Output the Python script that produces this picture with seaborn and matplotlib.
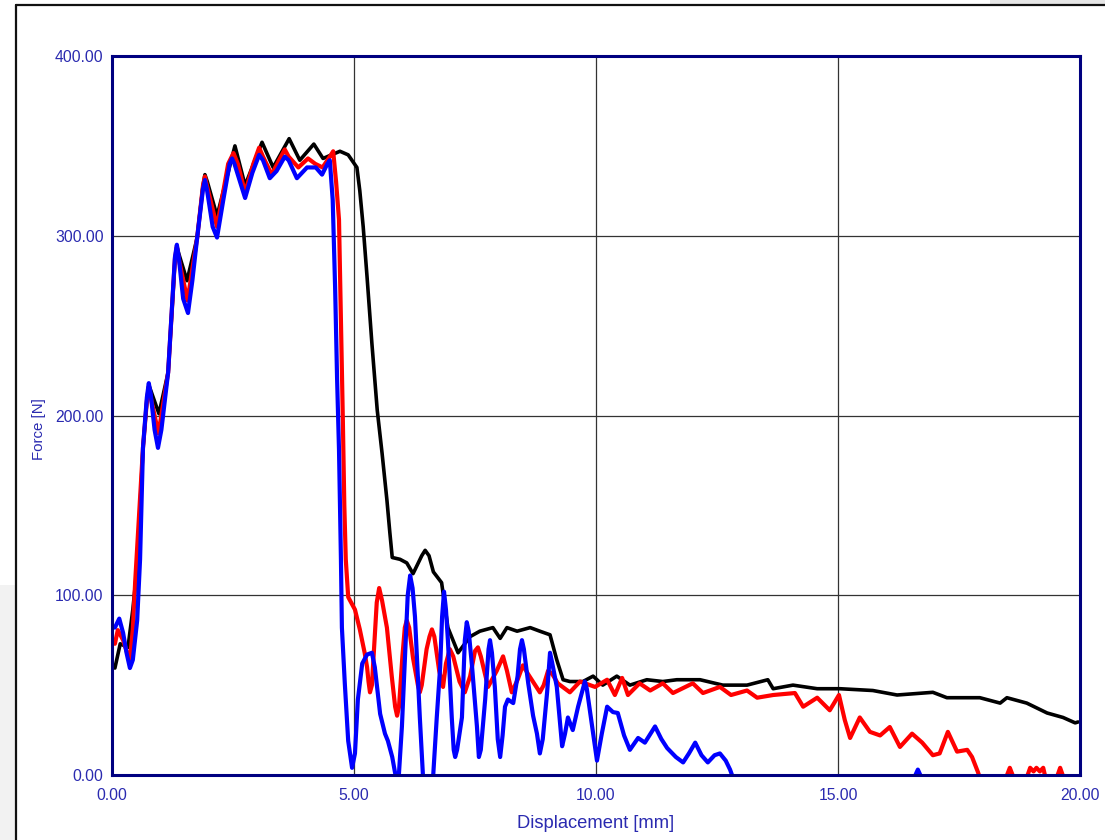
import numpy as np
import pandas as pd
import matplotlib
matplotlib.use("Agg")
import matplotlib.pyplot as plt
from matplotlib.patches import Rectangle
from matplotlib.lines import Line2D
import seaborn as sns

# Displacement [mm] / force [N] readings for the three specimens
black_x = [0.06, 0.17, 0.33, 0.43, 0.52, 0.64, 0.72, 0.76, 0.80, 0.97,
           1.16, 1.26, 1.30, 1.34, 1.38, 1.55, 1.76, 1.88, 1.92, 1.97,
           2.17, 2.54, 2.75, 3.10, 3.33, 3.66, 3.88, 4.17, 4.36, 4.71,
           4.88, 5.06, 5.12, 5.19, 5.27, 5.37, 5.48, 5.58, 5.68, 5.74,
           5.79, 5.95, 6.09, 6.22, 6.40, 6.47, 6.55, 6.64, 6.81, 6.94,
           7.15, 7.40, 7.60, 7.87, 8.02, 8.16, 8.37, 8.64, 8.84, 9.05,
           9.19, 9.32, 9.46, 9.73, 9.94, 10.14, 10.43, 10.70, 11.05, 11.38,
           11.67, 12.15, 12.62, 13.12, 13.55, 13.66, 14.07, 14.57, 15.04, 15.72,
           16.22, 16.96, 17.25, 17.93, 18.35, 18.49, 18.90, 19.32, 19.65, 19.90,
           19.96]
black_y = [59.5, 73, 71, 92, 116, 182, 208, 217, 214, 201,
           224, 268, 286, 294, 290, 275, 299, 328, 334, 330,
           311, 350, 328, 352, 338, 354, 342, 351, 343, 347,
           345, 338, 325, 305, 277, 240, 203, 179, 153, 135,
           121, 120, 118, 112, 122, 125, 122, 113, 107, 82,
           68, 77, 80, 82, 76, 82, 80, 82, 80, 78,
           64, 53, 52, 52, 55, 50, 55, 50, 53, 52,
           53, 53, 50, 50, 53, 48, 50, 48, 48, 47,
           44.5, 46, 43, 43, 40, 43, 40, 34.5, 32, 29,
           29.5]

red_x = [0.06, 0.12, 0.23, 0.30, 0.37, 0.43, 0.48, 0.64, 0.72, 0.76,
         0.80, 0.96, 1.16, 1.26, 1.30, 1.34, 1.38, 1.56, 1.76, 1.88,
         1.92, 1.96, 2.17, 2.40, 2.51, 2.60, 2.75, 2.92, 3.04, 3.12,
         3.30, 3.45, 3.57, 3.65, 3.85, 4.05, 4.20, 4.35, 4.50, 4.57,
         4.63, 4.69, 4.73, 4.77, 4.80, 4.83, 4.88, 5.02, 5.12, 5.22,
         5.27, 5.30, 5.33, 5.37, 5.43, 5.47, 5.52, 5.58, 5.68, 5.78,
         5.85, 5.89, 5.93, 6.00, 6.05, 6.09, 6.14, 6.22, 6.32, 6.36,
         6.40, 6.50, 6.56, 6.61, 6.66, 6.76, 6.84, 6.90, 6.98, 7.05,
         7.18, 7.29, 7.40, 7.50, 7.56, 7.62, 7.77, 7.95, 8.08, 8.16,
         8.26, 8.38, 8.49, 8.60, 8.84, 8.92, 9.01, 9.10, 9.21, 9.46,
         9.67, 9.98, 10.23, 10.39, 10.54, 10.66, 10.90, 11.12, 11.38, 11.59,
         12.00, 12.21, 12.56, 12.79, 13.12, 13.33, 13.66, 14.11, 14.28, 14.57,
         14.83, 15.02, 15.14, 15.25, 15.45, 15.66, 15.87, 16.07, 16.28, 16.53,
         16.74, 16.96, 17.10, 17.27, 17.46, 17.67, 17.77, 17.89, 17.95, 18.45,
         18.55, 18.65, 18.88, 18.97, 19.04, 19.10, 19.17, 19.24, 19.30, 19.50,
         19.59, 19.68, 20.00]
red_y = [73, 80.6, 75, 69, 64, 81, 108, 182, 208, 216,
         210, 190, 224, 269, 287, 294, 287, 264, 299, 328,
         333, 328, 305, 340, 346, 340, 324, 340, 349, 344,
         334, 342, 348, 344, 338, 343, 340, 338, 344, 347,
         330, 309, 253, 197, 150, 120, 99, 92, 81, 68,
         60, 52, 46, 50, 78, 96, 104, 97, 82, 55,
         38, 33, 38, 66, 82, 86, 82, 65, 50, 46,
         50, 70, 77, 81, 77, 58, 49, 62, 70, 66,
         52, 46, 55, 69, 71, 66, 49, 58, 66, 58,
         46, 53, 61, 56, 46, 50, 58, 56, 51, 46,
         52, 49, 53, 44.5, 54, 44.5, 51, 47, 51, 45.6,
         51, 45.6, 49, 44.5, 47, 43, 44.5, 45.6, 38, 43,
         36, 44.5, 30.6, 20.6, 32, 24, 22, 26.7, 15.6, 23,
         18, 11, 12, 24, 13, 14, 10, 1.7, -3, -3,
         4, -3, -3, 4, 2, 4, 2, 4, -3, -3,
         4, -3, -3]

blue_x = [0.06, 0.15, 0.23, 0.30, 0.37, 0.43, 0.52, 0.58, 0.64, 0.72,
          0.76, 0.80, 0.88, 0.95, 1.02, 1.16, 1.26, 1.30, 1.34, 1.38,
          1.47, 1.57, 1.66, 1.76, 1.88, 1.92, 1.96, 2.08, 2.17, 2.30,
          2.43, 2.48, 2.53, 2.75, 2.90, 3.04, 3.12, 3.26, 3.40, 3.57,
          3.65, 3.82, 4.03, 4.21, 4.34, 4.45, 4.50, 4.56, 4.61, 4.65,
          4.69, 4.73, 4.75, 4.81, 4.88, 4.96, 5.02, 5.08, 5.17, 5.27,
          5.37, 5.43, 5.54, 5.64, 5.70, 5.79, 5.85, 5.92, 5.99, 6.05,
          6.11, 6.16, 6.21, 6.26, 6.36, 6.43, 6.63, 6.71, 6.78, 6.82,
          6.86, 6.90, 6.94, 7.02, 7.06, 7.09, 7.13, 7.23, 7.29, 7.33,
          7.37, 7.44, 7.54, 7.58, 7.62, 7.71, 7.78, 7.81, 7.85, 7.91,
          7.97, 8.02, 8.07, 8.12, 8.18, 8.29, 8.38, 8.43, 8.47, 8.51,
          8.60, 8.70, 8.78, 8.84, 8.90, 8.99, 9.05, 9.09, 9.19, 9.30,
          9.36, 9.42, 9.52, 9.63, 9.73, 9.77, 9.81, 9.94, 10.02, 10.12,
          10.23, 10.35, 10.45, 10.58, 10.70, 10.87, 11.01, 11.22, 11.35, 11.47,
          11.65, 11.80, 11.92, 12.05, 12.18, 12.31, 12.45, 12.56, 12.68, 12.77,
          12.85, 16.55, 16.65, 16.75]
blue_y = [82, 87, 79, 68, 59.5, 64, 86, 120, 182, 210,
          218, 212, 192, 182, 192, 224, 270, 288, 295, 288,
          265, 257, 275, 299, 326, 331, 326, 305, 299, 320,
          340, 343, 340, 321, 335, 345, 342, 332, 336, 344,
          342, 332, 338, 338, 334, 340, 342, 320, 271, 221,
          181, 120, 82, 51, 19, 4, 12, 42, 62, 67,
          68, 60, 34, 23, 19, 10, 1, -3, 27, 64,
          100, 111, 104, 88, 32, -3, -3, 32, 60, 88,
          102, 92, 75, 32, 14, 10, 14, 32, 75, 85,
          80, 60, 27, 10, 14, 42, 70, 75, 68, 49,
          20, 10, 22, 38, 42, 40, 55, 70, 75, 70,
          51, 33, 23, 12, 20, 46, 68, 63, 49, 16,
          23, 32, 25, 38, 48, 52, 48, 23, 8, 23,
          38, 35, 34.5, 22, 14, 20.6, 18, 27, 20, 15,
          10, 7, 12, 18, 11, 7, 11, 12, 8, 3,
          -3, -3, 3, -3]

series_names = ["A", "B", "C"]
series_colors = ["#000000", "#ff0000", "#0000ff"]
x_ticks = [0, 5, 10, 15, 20]
y_ticks = [0, 100, 200, 300, 400]

frames = []
for name, xs, ys in zip(series_names, [black_x, red_x, blue_x], [black_y, red_y, blue_y]):
    frames.append(pd.DataFrame({"Displacement": xs, "Force": ys, "Specimen": name}))
data = pd.concat(frames, ignore_index=True)

sns.set_style("white")
plt.rcParams["font.family"] = ["Liberation Sans", "DejaVu Sans"]

navy = "#000080"
text_col = "#2a2ab0"

fig = plt.figure(figsize=(11.05, 8.4), dpi=100)
fig.patch.set_facecolor("white")

# window chrome around the plot panel
W, H = 1105, 840
fig.patches.append(Rectangle((0, 0), 16 / W, 1 - 585 / H, transform=fig.transFigure,
                             facecolor="#f2f2f2", edgecolor="none", zorder=0))
fig.patches.append(Rectangle((990 / W, 1 - 5 / H), 1 - 990 / W, 5 / H, transform=fig.transFigure,
                             facecolor="#e6e6e6", edgecolor="none", zorder=0))
fig.lines.append(Line2D([16 / W, 16 / W], [0, 1 - 5 / H], transform=fig.transFigure,
                        color="#111111", lw=1.6, zorder=1))
fig.lines.append(Line2D([16 / W, 1], [1 - 5 / H, 1 - 5 / H], transform=fig.transFigure,
                        color="#111111", lw=1.6, zorder=1))

ax = fig.add_axes([112 / W, 1 - 775 / H, (1080 - 112) / W, (775 - 56) / H])

widths = {"A": 2.6, "B": 3.0, "C": 3.0}
for name, color in zip(series_names, series_colors):
    sub = data[data["Specimen"] == name]
    sns.lineplot(data=sub, x="Displacement", y="Force", color=color, sort=False,
                 estimator=None, lw=widths[name], ax=ax, legend=False,
                 solid_joinstyle="round", solid_capstyle="round")

ax.set_xlim(0, 20)
ax.set_ylim(0, 400)
ax.set_xticks(x_ticks)
ax.set_yticks(y_ticks)
ax.set_xticklabels([f"{v:.2f}" for v in x_ticks])
ax.set_yticklabels([f"{v:.2f}" for v in y_ticks])
ax.tick_params(axis="both", length=0, labelsize=11.3, labelcolor=text_col)
ax.tick_params(axis="x", pad=9)
ax.tick_params(axis="y", pad=6)

ax.grid(True, color="#333333", lw=0.9)
ax.set_axisbelow("line")
for sp in ax.spines.values():
    sp.set_visible(True)
    sp.set_color(navy)
    sp.set_linewidth(2.2)

ax.set_xlabel("Displacement [mm]", fontsize=13.2, color=text_col, labelpad=9)
ax.set_ylabel("Force [N]", fontsize=10.8, color=text_col)
ax.yaxis.set_label_coords(-0.068, 0.481)

fig.savefig("out.png", dpi=100)
